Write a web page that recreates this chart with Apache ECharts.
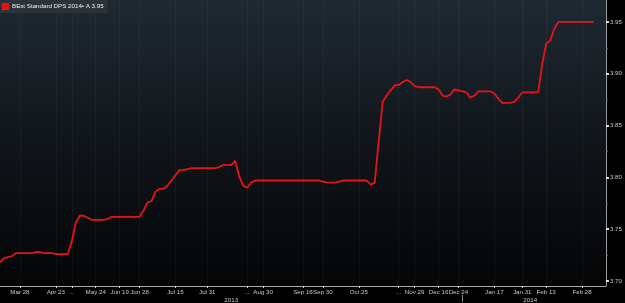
<!DOCTYPE html>
<html><head><meta charset="utf-8">
<script src="https://cdn.jsdelivr.net/npm/echarts@6/dist/echarts.min.js"></script>
<style>html,body{margin:0;padding:0;background:#000;}#c{width:625px;height:303px;}</style>
</head><body><div id="c"></div>
<script>
// x-axis: 153 equally spaced steps (compressed trading-day axis); labels at some steps
var xLabelText = ["Mar 28","Apr 23","...","May 24","Jun 19","Jun 28","Jul 15","Jul 31","...","Aug 30","Sep 16","Sep 30","Oct 25","...","Nov 29","Dec 16","Dec 24","Jan 17","Jan 31","Feb 13","Feb 28"];
var xLabelStep = [5,14,18,24,30,35,44,52,62,66,76,81,90,100,104,110,115,124,131,137,146];
var yearText = ["2013","2014"];
var yearStep = [58,133];
var nSteps = 153;
var seriesName = "BEst Standard DPS 2014\u2022 A 3.95";
var dps = [
3.718,3.722,3.723,3.724,3.727,3.727,3.727,3.727,3.727,3.728,
3.728,3.727,3.727,3.727,3.726,3.726,3.726,3.726,3.738,3.756,
3.763,3.763,3.761,3.759,3.759,3.759,3.759,3.760,3.762,3.762,
3.762,3.762,3.762,3.762,3.762,3.762,3.768,3.776,3.777,3.786,
3.789,3.789,3.792,3.797,3.802,3.807,3.807,3.808,3.809,3.809,
3.809,3.809,3.809,3.809,3.809,3.810,3.812,3.812,3.812,3.816,
3.801,3.792,3.790,3.795,3.797,3.797,3.797,3.797,3.797,3.797,
3.797,3.797,3.797,3.797,3.797,3.797,3.797,3.797,3.797,3.797,
3.797,3.796,3.795,3.795,3.795,3.796,3.797,3.797,3.797,3.797,
3.797,3.797,3.797,3.793,3.795,3.835,3.873,3.879,3.884,3.889,
3.889,3.892,3.894,3.892,3.888,3.887,3.887,3.887,3.887,3.887,
3.885,3.879,3.878,3.880,3.885,3.884,3.883,3.882,3.877,3.879,
3.883,3.883,3.883,3.883,3.881,3.876,3.872,3.872,3.872,3.873,
3.877,3.882,3.882,3.882,3.882,3.882,3.909,3.929,3.932,3.943,
3.950,3.950,3.950,3.950,3.950,3.950,3.950,3.950,3.950,3.950
];
var yTicks = [3.70,3.75,3.80,3.85,3.90,3.95];
var yTickLabels = ["3.70","3.75","3.80","3.85","3.90","3.95"];
var yMinor = [3.725,3.775,3.825,3.875,3.925];

var cats = [], years = [];
for (var i = 0; i < nSteps; i++) { cats.push(""); years.push(""); }
xLabelStep.forEach(function(s, k){ cats[s] = xLabelText[k]; });
yearStep.forEach(function(s, k){ years[s] = yearText[k]; });

var chart = echarts.init(document.getElementById('c'));
var font = "Liberation Sans";
var fs = 6.2;
chart.setOption({
  backgroundColor: '#000',
  animation: false,
  legend: {
    left: 0, top: 0, padding: [3, 4, 3, 2], itemWidth: 7, itemHeight: 7, itemGap: 0,
    backgroundColor: '#2c3237', icon: 'rect',
    textStyle: { color: '#f0f0f0', fontSize: fs, fontFamily: font, padding: [0,0,0,-2] },
    data: [seriesName]
  },
  grid: {
    left: 0, right: 16, top: 0, bottom: 17, show: true, borderWidth: 0,
    backgroundColor: new echarts.graphic.LinearGradient(0, 0, 0, 1, [
      { offset: 0, color: '#1f2933' }, { offset: 0.5, color: '#10151a' }, { offset: 1, color: '#040506' }
    ])
  },
  xAxis: [{
    type: 'category', data: cats, boundaryGap: false,
    axisLine: { lineStyle: { color: '#a9a9a9', width: 1 } },
    axisTick: { show: true, length: 2, interval: function(i, v){ return v !== ''; }, lineStyle: { color: '#d0d0d0' } },
    axisLabel: { interval: function(i, v){ return v !== ''; }, color: '#c8c8c8', fontSize: fs, fontFamily: font, margin: 3 },
    splitLine: { show: true, interval: function(i, v){ return v !== ''; }, lineStyle: { color: 'rgba(255,255,255,0.045)', width: 1 } }
  }, {
    type: 'category', data: years, boundaryGap: false, position: 'bottom', offset: 9,
    axisLine: { show: false },
    axisTick: { show: true, length: 7, interval: function(i){ return i === 116; }, lineStyle: { color: '#888' } },
    axisLabel: { interval: function(i, v){ return v !== ''; }, color: '#c8c8c8', fontSize: fs, fontFamily: font, margin: 2 },
    splitLine: { show: false }
  }],
  yAxis: [{
    type: 'value', position: 'right', min: 3.6952, max: 3.9712,
    axisLine: { show: true, lineStyle: { color: '#9a9a9a' } },
    axisTick: { show: true, customValues: yTicks, length: 3, lineStyle: { color: '#e0e0e0', width: 2 } },
    axisLabel: { customValues: yTicks, color: '#c8c8c8', fontSize: fs, fontFamily: font, margin: 4,
      formatter: function(v){ return yTickLabels[yTicks.indexOf(Math.round(v*100)/100)] || v.toFixed(2); } },
    splitLine: { show: false }
  }, {
    type: 'value', position: 'right', min: 3.6952, max: 3.9712,
    axisLine: { show: false },
    axisTick: { show: true, customValues: yMinor, length: 2, lineStyle: { color: '#666' } },
    axisLabel: { show: false }, splitLine: { show: false }
  }],
  series: [{
    name: seriesName, type: 'line', data: dps, showSymbol: false, symbol: 'none',
    itemStyle: { color: '#e5141b' },
    lineStyle: { color: '#e5141b', width: 1.8 }
  }]
});
</script></body></html>
